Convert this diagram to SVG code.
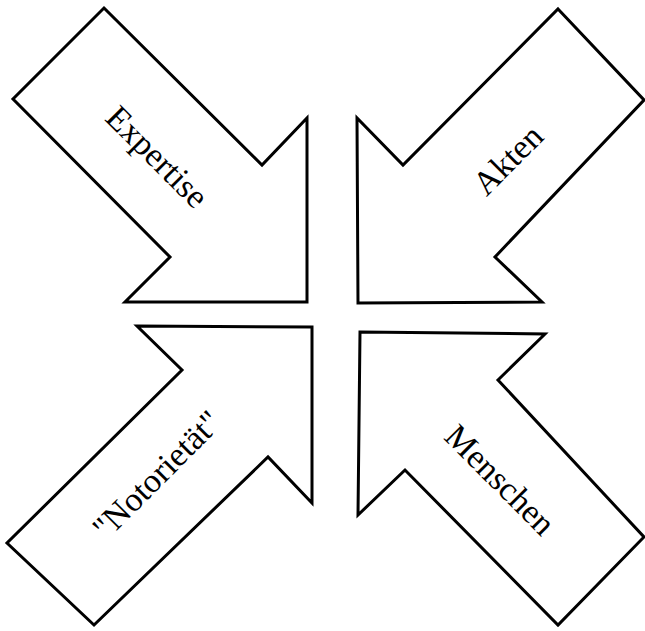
<svg xmlns="http://www.w3.org/2000/svg" width="645" height="631" viewBox="0 0 645 631">
<style>
.arrow{fill:#fff;stroke:#000;stroke-width:3;stroke-linejoin:miter}
.lbl{font-family:"Liberation Serif","Times New Roman",serif;font-size:34px;fill:#000;text-anchor:middle}
</style>
<rect width="645" height="631" fill="#fff"/>
<g id="expertise">
<polygon class="arrow" points="104,8 262,165 307,118 307,302 125,302 170,257 13,99"/>
<text class="lbl" transform="translate(157,157) rotate(45)" y="11">Expertise</text>
</g>
<g id="akten">
<polygon class="arrow" points="558,9 644,100 495,257 542,302 358,303 357,118 403,165"/>
<text class="lbl" transform="translate(508,160) rotate(-45)" y="11">Akten</text>
</g>
<g id="notorietaet">
<polygon class="arrow" points="137,326 312,327 312,503 268,457 94,625 7,543 182,370"/>
<text class="lbl" transform="translate(157,475) rotate(-45)" y="11">"Notorietät"</text>
</g>
<g id="menschen">
<polygon class="arrow" points="360,332 545,334 498,380 644,537 558,625 405,470 358,515"/>
<text class="lbl" transform="translate(500,480) rotate(45)" y="11">Menschen</text>
</g>
<g id="connectors"/>
</svg>
